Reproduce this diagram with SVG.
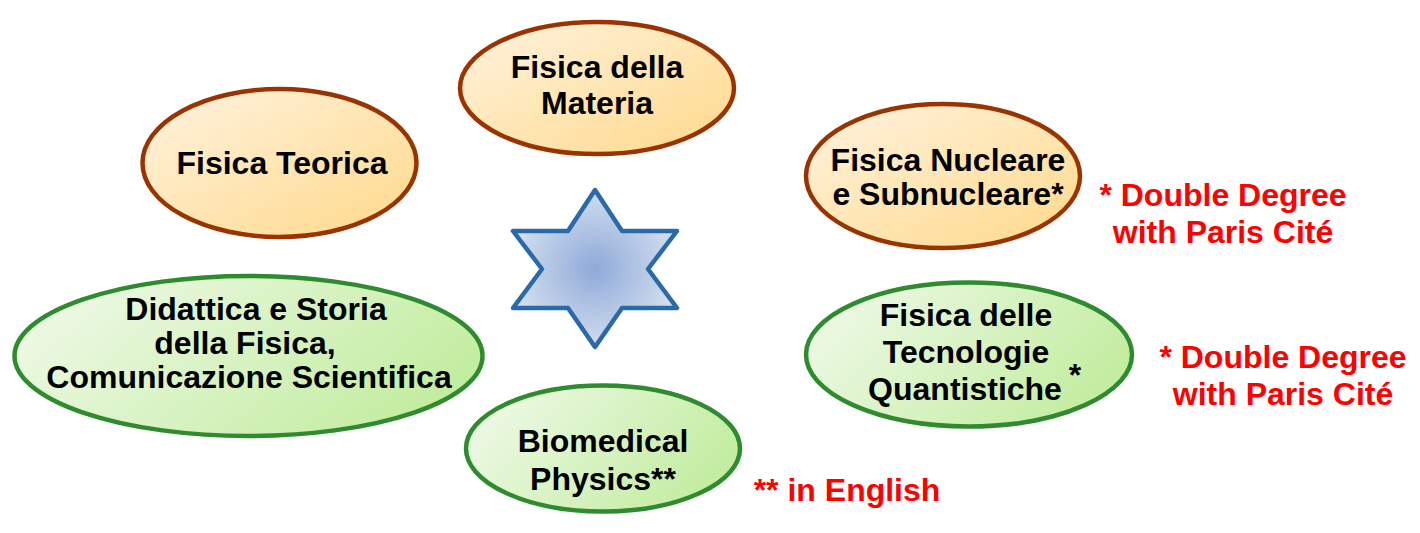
<svg xmlns="http://www.w3.org/2000/svg" width="1420" height="533" viewBox="0 0 1420 533">
<defs>
<linearGradient id="gOrange" x1="0" y1="0" x2="1" y2="1">
<stop offset="0" stop-color="#fff3e0"/>
<stop offset="1" stop-color="#ffd98a"/>
</linearGradient>
<linearGradient id="gGreen" x1="0" y1="0.3" x2="1" y2="0.7">
<stop offset="0" stop-color="#eef9e6"/>
<stop offset="1" stop-color="#c0ec9c"/>
</linearGradient>
<radialGradient id="gStar" cx="0.5" cy="0.5" r="0.5">
<stop offset="0" stop-color="#8eaad8"/>
<stop offset="1" stop-color="#d2ddef"/>
</radialGradient>
<style>
.o{fill:url(#gOrange);stroke:#993300;stroke-width:4.5}
.g{fill:url(#gGreen);stroke:#2e8b2e;stroke-width:4.5}
.t{font-family:"Liberation Sans",Arial,sans-serif;font-weight:bold;font-size:32px;fill:#000;text-anchor:middle}
.r{font-family:"Liberation Sans",Arial,sans-serif;font-weight:bold;font-size:32px;fill:#ff0000;text-anchor:middle}
</style>
</defs>
<rect width="1420" height="533" fill="#ffffff"/>
<g id="connectors"></g>
<g id="star">
<polygon points="595,190 622,231 677,231 648,269 677,308 622,308 595,347 568,308 513,308 542,269 513,231 568,231" fill="url(#gStar)" stroke="#2a6aa8" stroke-width="4.5" stroke-linejoin="round"/>
</g>
<g id="materia">
<ellipse class="o" cx="597" cy="88" rx="137" ry="66"/>
<text class="t" x="597" y="78">Fisica della</text>
<text class="t" x="597" y="114">Materia</text>
</g>
<g id="teorica">
<ellipse class="o" cx="279.5" cy="163" rx="137" ry="74"/>
<text class="t" x="282" y="174">Fisica Teorica</text>
</g>
<g id="nucleare">
<ellipse class="o" cx="943" cy="176" rx="137" ry="72"/>
<text class="t" x="948" y="171">Fisica Nucleare</text>
<text class="t" x="948" y="205">e Subnucleare*</text>
</g>
<g id="note-nucleare">
<text class="r" x="1223" y="206">* Double Degree</text>
<text class="r" x="1223" y="243">with Paris Cité</text>
</g>
<g id="didattica">
<ellipse class="g" cx="248.5" cy="356" rx="234" ry="80"/>
<text class="t" x="256" y="320">Didattica e Storia</text>
<text class="t" x="245" y="354">della Fisica,</text>
<text class="t" x="249" y="388">Comunicazione Scientifica</text>
</g>
<g id="tecnologie">
<ellipse class="g" cx="969" cy="354.5" rx="163" ry="72"/>
<text class="t" x="966" y="326">Fisica delle</text>
<text class="t" x="966" y="363">Tecnologie</text>
<text class="t" x="965" y="400">Quantistiche</text>
<text class="t" x="1075" y="386">*</text>
</g>
<g id="note-tecnologie">
<text class="r" x="1283" y="368">* Double Degree</text>
<text class="r" x="1283" y="405">with Paris Cité</text>
</g>
<g id="biomedical">
<ellipse class="g" cx="603" cy="448.5" rx="137" ry="63"/>
<text class="t" x="603" y="452">Biomedical</text>
<text class="t" x="603" y="490">Physics**</text>
</g>
<g id="note-biomedical">
<text class="r" x="847" y="501">** in English</text>
</g>
</svg>
